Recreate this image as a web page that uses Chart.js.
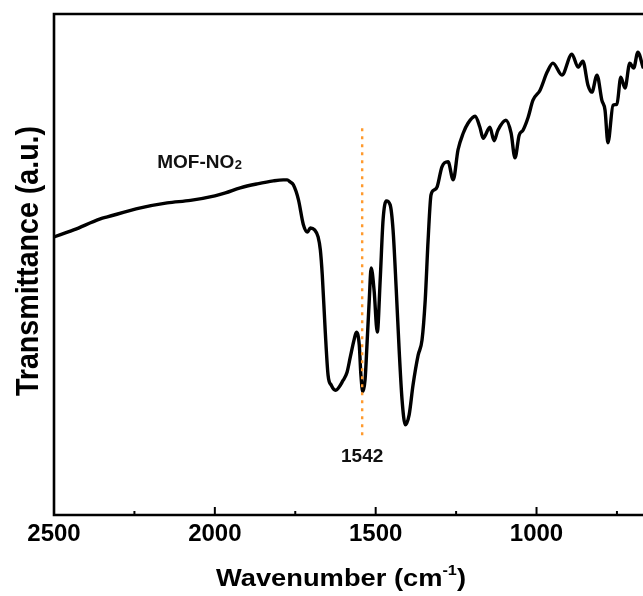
<!DOCTYPE html>
<html>
<head>
<meta charset="utf-8">
<script src="https://cdn.jsdelivr.net/npm/chart.js@4.4.1/dist/chart.umd.min.js"></script>
<style>
  html, body { margin: 0; padding: 0; background: #fff; overflow: hidden; }
  #wrap { width: 643px; height: 596px; position: relative; }
</style>
</head>
<body>
<div id="wrap"><canvas id="c" width="643" height="596"></canvas></div>
<script>
// ---- data (wavenumber in cm-1, transmittance in a.u.) ----
const wavenumbers = [
  2500, 2439, 2356, 2334, 2231, 2148, 2076, 2000, 1967, 1921, 1868, 1818, 1787, 1775, 1766, 1756,
  1740, 1725, 1712, 1703, 1690, 1679, 1672, 1666, 1657, 1648, 1638, 1625, 1601, 1589, 1579, 1567,
  1560, 1551, 1546, 1540, 1533, 1527, 1520, 1514, 1505, 1495, 1486, 1477, 1467, 1455, 1446, 1436,
  1427, 1418, 1408, 1396, 1384, 1368, 1356, 1346, 1337, 1328, 1318, 1309, 1294, 1275, 1259, 1244,
  1228, 1213, 1191, 1176, 1166, 1145, 1132, 1120, 1095, 1079, 1067, 1054, 1042, 1026, 1011, 989,
  967, 949, 921, 890, 871, 856, 840, 828, 812, 797, 787, 778, 762, 750, 738, 725, 710, 698, 685, 669
];
const transmittance = [
  55.5, 56.9, 59.1, 59.5, 61.3, 62.3, 62.8, 63.7, 64.3, 65.3, 66.1, 66.7, 66.9, 66.9, 66.5, 65.9,
  62.9, 58.0, 56.5, 57.3, 56.9, 55.5, 52.9, 47.9, 36.9, 27.9, 25.9, 24.9, 26.9, 28.5, 31.5, 35.0,
  36.5, 33.9, 28.0, 24.6, 27.0, 34.0, 42.9, 49.3, 44.9, 36.5, 46.9, 58.9, 62.7, 61.9, 56.9, 44.9,
  32.9, 23.0, 18.0, 20.0, 25.9, 31.9, 34.9, 42.9, 54.9, 63.9, 64.9, 65.5, 69.5, 70.5, 66.9, 72.9,
  76.2, 78.2, 79.6, 77.4, 75.2, 77.4, 74.7, 76.8, 78.8, 76.2, 71.3, 75.8, 76.8, 79.4, 82.8, 84.8,
  88.4, 90.2, 87.8, 92.0, 89.4, 90.6, 85.8, 84.4, 87.8, 82.8, 80.8, 74.3, 81.8, 82.0, 87.4, 85.2,
  90.2, 89.2, 92.4, 89.4
];
const xMajorTicks = [2500, 2000, 1500, 1000];
const xMinorTicks = [2250, 1750, 1250, 750];
const xRange = [669, 2500];
const yRange = [0, 100];
const markerWavenumber = 1542;
const markerSpan = [15, 77.2];
const markerLabel = '1542';
const sampleName = 'MOF-NO';
const sampleSub = '2';
const sampleAt = [2179, 70.3];
const markerLabelAt = 11.6;
const xTitle = 'Wavenumber (cm';
const xTitleSup = '-1';
const yTitle = 'Transmittance (a.u.)';

const FONT = '"Liberation Sans", Arial, Helvetica, sans-serif';

const points = wavenumbers.map((w, i) => ({ x: w, y: transmittance[i] }));

const decor = {
  id: 'decor',
  afterDraw(chart) {
    const ctx = chart.ctx;
    const a = chart.chartArea;
    const xs = chart.scales.x, ys = chart.scales.y;
    ctx.save();
    // frame (top, left, bottom) – right side runs off the image
    ctx.strokeStyle = '#000';
    ctx.lineWidth = 2.6;
    ctx.lineCap = 'square';
    ctx.beginPath();
    ctx.moveTo(chart.width + 5, a.top);
    ctx.lineTo(a.left, a.top);
    ctx.lineTo(a.left, a.bottom);
    ctx.lineTo(chart.width + 5, a.bottom);
    ctx.stroke();
    // inward ticks
    ctx.lineWidth = 2;
    ctx.lineCap = 'butt';
    xMajorTicks.forEach(v => {
      const px = xs.getPixelForValue(v);
      ctx.beginPath(); ctx.moveTo(px, a.bottom); ctx.lineTo(px, a.bottom - 8); ctx.stroke();
    });
    xMinorTicks.forEach(v => {
      const px = xs.getPixelForValue(v);
      ctx.beginPath(); ctx.moveTo(px, a.bottom); ctx.lineTo(px, a.bottom - 4); ctx.stroke();
    });
    // dotted marker line
    const mx = xs.getPixelForValue(markerWavenumber);
    ctx.strokeStyle = '#FF9A2E';
    ctx.lineWidth = 2.4;
    ctx.setLineDash([3, 5]);
    ctx.beginPath();
    ctx.moveTo(mx, ys.getPixelForValue(markerSpan[1]));
    ctx.lineTo(mx, ys.getPixelForValue(markerSpan[0]));
    ctx.stroke();
    ctx.setLineDash([]);
    // marker label
    ctx.fillStyle = '#111';
    ctx.font = 'bold 19px ' + FONT;
    ctx.textAlign = 'center';
    ctx.textBaseline = 'middle';
    ctx.fillText(markerLabel, mx, ys.getPixelForValue(markerLabelAt));
    // sample label
    const sx = xs.getPixelForValue(sampleAt[0]);
    const sy = ys.getPixelForValue(sampleAt[1]);
    ctx.font = 'bold 19px ' + FONT;
    ctx.textAlign = 'left';
    ctx.textBaseline = 'middle';
    ctx.fillText(sampleName, sx, sy);
    const w1 = ctx.measureText(sampleName).width;
    ctx.font = 'bold 13px ' + FONT;
    ctx.fillText(sampleSub, sx + w1 + 0.5, sy + 3);
    // x title with superscript, stretched to the reference width
    ctx.fillStyle = '#000';
    ctx.textBaseline = 'alphabetic';
    ctx.textAlign = 'left';
    ctx.font = 'bold 23.5px ' + FONT;
    const bw = ctx.measureText(xTitle).width;
    const cw = ctx.measureText(')').width;
    ctx.font = 'bold 14px ' + FONT;
    const sw = ctx.measureText(xTitleSup).width;
    const total = bw + sw + cw;
    const targetW = 250;
    const k = targetW / total;
    ctx.save();
    ctx.translate(341 - targetW / 2, 586);
    ctx.scale(k, 1);
    ctx.font = 'bold 23.5px ' + FONT;
    ctx.fillText(xTitle, 0, 0);
    ctx.font = 'bold 14px ' + FONT;
    ctx.fillText(xTitleSup, bw, -11);
    ctx.font = 'bold 23.5px ' + FONT;
    ctx.fillText(')', bw + sw, 0);
    ctx.restore();
    // y title
    ctx.save();
    ctx.translate(29, 261);
    ctx.rotate(-Math.PI / 2);
    ctx.scale(1, 1.12);
    ctx.textAlign = 'center';
    ctx.textBaseline = 'middle';
    ctx.font = 'bold 28.6px ' + FONT;
    ctx.fillText(yTitle, 0, 0);
    ctx.restore();
    ctx.restore();
  }
};

new Chart(document.getElementById('c'), {
  type: 'line',
  data: {
    datasets: [{
      data: points,
      borderColor: '#000',
      borderWidth: 3.4,
      pointRadius: 0,
      fill: false,
      cubicInterpolationMode: 'monotone',
      borderJoinStyle: 'round',
      borderCapStyle: 'round'
    }]
  },
  options: {
    responsive: false,
    animation: false,
    devicePixelRatio: 1,
    layout: { padding: { left: 54, top: 14, right: 0, bottom: 0 } },
    plugins: { legend: { display: false }, tooltip: { enabled: false } },
    scales: {
      x: {
        type: 'linear',
        reverse: true,
        min: xRange[0],
        max: xRange[1],
        afterBuildTicks: (s) => { s.ticks = xMajorTicks.map(v => ({ value: v })); },
        afterFit: (s) => { s.height = 81; },
        grid: { display: false, drawTicks: false },
        border: { display: false },
        ticks: {
          color: '#000',
          padding: 5,
          maxRotation: 0,
          autoSkip: false,
          callback: (v) => String(v),
          font: { family: FONT, size: 24, weight: 'bold' }
        }
      },
      y: {
        display: false,
        min: yRange[0],
        max: yRange[1]
      }
    }
  },
  plugins: [decor]
});
</script>
</body>
</html>
